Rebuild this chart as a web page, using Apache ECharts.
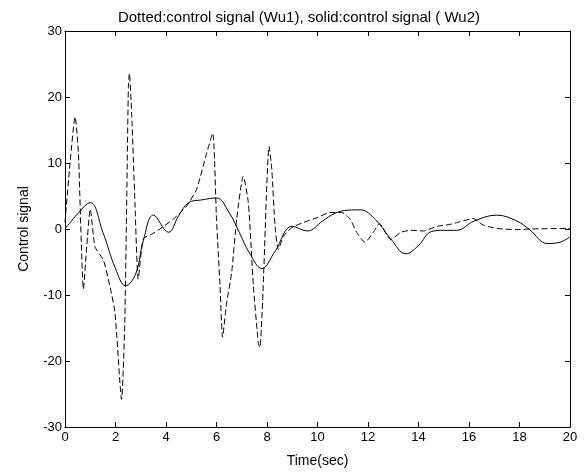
<!DOCTYPE html>
<html>
<head>
<meta charset="utf-8">
<script src="https://cdn.jsdelivr.net/npm/echarts@6/dist/echarts.min.js"></script>
<style>
  html, body { margin: 0; padding: 0; background: #fff; }
  #chart { width: 586px; height: 473px; }
</style>
</head>
<body>
<div id="chart"></div>
<script>
// Wu2 (solid) control signal
const wu2Time = [0, 0.5, 1.0, 1.5, 2.0, 2.4, 2.8, 3.1, 3.5, 4.1, 4.5, 4.9, 5.4, 6.0, 6.5, 6.9, 7.3, 7.8, 8.3, 9.0, 9.6, 10.2, 10.7, 11.2, 11.7, 12.3, 12.9, 13.5, 14.0, 14.5, 15.0, 15.5, 16.2, 17.1, 17.9, 18.4, 19.1, 19.6, 20];
const wu2Value = [0, 2.3, 4.0, -0.5, -6.0, -8.6, -6.8, -1.8, 2.1, -0.5, 2.0, 4.0, 4.4, 4.7, 2.5, -0.5, -3.6, -6.0, -3.5, 0.4, -0.3, 1.2, 2.4, 2.85, 2.9, 1.4, -1.5, -3.75, -2.5, -0.4, -0.2, -0.2, 1.2, 2.1, 1.2, -0.1, -2.2, -2.0, -1.2];

// Wu1 (dotted) control signal
const wu1Time = [0, 0.2, 0.4, 0.53, 0.73, 0.86, 1.0, 1.19, 1.52, 1.78, 1.98, 2.24, 2.37, 2.51, 2.55, 2.64, 2.77, 2.9, 3.1, 3.43, 3.76, 4.29, 4.82, 5.21, 5.61, 5.85, 6.0, 6.14, 6.24, 6.4, 6.6, 6.8, 7.06, 7.26, 7.46, 7.66, 7.72, 7.85, 7.99, 8.08, 8.19, 8.32, 8.45, 8.65, 8.98, 9.42, 9.97, 10.5, 10.96, 11.29, 11.55, 11.88, 12.21, 12.45, 12.9, 13.3, 13.7, 14.2, 14.73, 15.25, 15.64, 16.17, 16.56, 17.1, 17.9, 18.4, 20];
const wu1Value = [1, 10, 17, 11.5, -9.1, -2.7, 3.0, -2.7, -4.7, -8.7, -12.7, -25.8, -13.7, 21.6, 23.6, 17.5, 4, -7.6, -1.5, -0.8, 0, 1.5, 3.5, 6, 11.5, 14.5, 1.5, -8.6, -16.4, -11.2, -6.6, 1.5, 8.0, 4, -8.6, -17.4, -17.9, -8.6, 6.5, 12.5, 9, 0.4, -3.1, -1.1, 0.2, 0.95, 1.7, 2.5, 2.5, 1.5, -0.5, -2.0, -0.5, 0.8, -1.6, -0.5, -0.2, -0.3, 0.4, 0.7, 1.1, 1.6, 0.6, 0.1, -0.1, 0, 0.1];

const title = "Dotted:control signal (Wu1), solid:control signal ( Wu2)";
const font = "Arial, 'Liberation Sans', sans-serif";

const zip = (xs, ys) => xs.map((x, i) => [x, ys[i]]);

// MATLAB-style box: every side has a line and inward ticks
const boxAxis = {
  axisLine: { show: true, onZero: false, lineStyle: { color: "#000", width: 1 } },
  axisTick: { show: true, inside: true, length: 5, lineStyle: { color: "#000" } },
  splitLine: { show: false },
};

const option = {
  animation: false,
  title: {
    text: title,
    left: 294,
    textAlign: "center",
    top: 5,
    textStyle: { fontFamily: font, fontSize: 15, fontWeight: "normal", color: "#000" },
  },
  grid: { left: 65, right: 16, top: 31, bottom: 45 },
  xAxis: [
    {
      ...boxAxis,
      type: "value",
      min: 0,
      max: 20,
      interval: 2,
      name: "Time(sec)",
      nameLocation: "middle",
      nameGap: 27,
      nameTextStyle: { fontFamily: font, fontSize: 14, color: "#000" },
      axisLabel: { fontFamily: font, fontSize: 13, color: "#000", margin: 4 },
    },
    {
      ...boxAxis,
      type: "value",
      position: "top",
      min: 0,
      max: 20,
      interval: 2,
      axisLabel: { show: false },
    },
  ],
  yAxis: [
    {
      ...boxAxis,
      type: "value",
      min: -30,
      max: 30,
      interval: 10,
      name: "Control signal",
      nameLocation: "middle",
      nameGap: 34,
      nameTextStyle: { fontFamily: font, fontSize: 14, color: "#000" },
      axisLabel: { fontFamily: font, fontSize: 13, color: "#000", margin: 3 },
    },
    {
      ...boxAxis,
      type: "value",
      position: "right",
      min: -30,
      max: 30,
      interval: 10,
      axisLabel: { show: false },
    },
  ],
  series: [
    {
      name: "Wu1",
      type: "line",
      data: zip(wu1Time, wu1Value),
      smooth: 0.2,
      symbol: "none",
      lineStyle: { color: "#000", width: 1, type: [6, 3] },
    },
    {
      name: "Wu2",
      type: "line",
      data: zip(wu2Time, wu2Value),
      smooth: 0.4,
      symbol: "none",
      lineStyle: { color: "#000", width: 1 },
    },
  ],
};

const chart = echarts.init(document.getElementById("chart"));
chart.setOption(option);
</script>
</body>
</html>
